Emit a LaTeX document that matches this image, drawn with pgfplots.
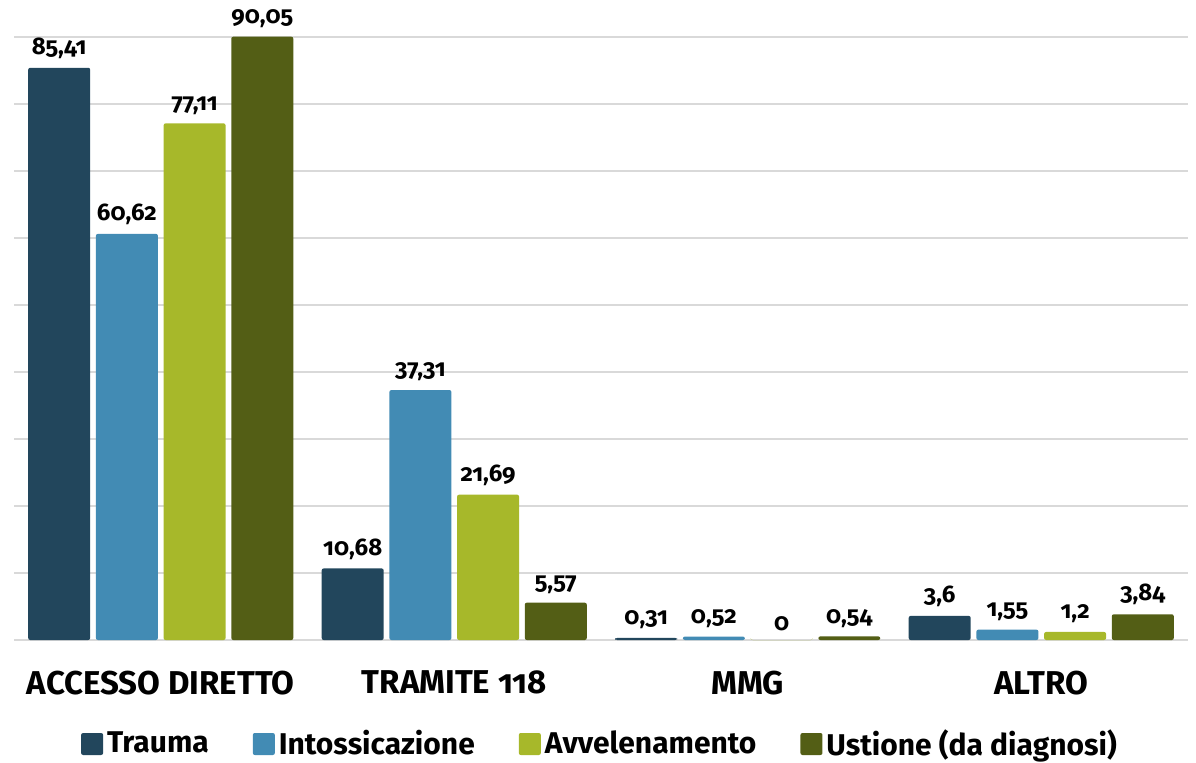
\documentclass[border=0pt]{standalone}
\usepackage{pgfplots}
\pgfplotsset{compat=1.18}
\usepackage{fontspec}
\setmainfont{Fira Sans}[Numbers=OldStyle]
\definecolor{trauma}{HTML}{22465C}
\definecolor{intox}{HTML}{428BB4}
\definecolor{avvel}{HTML}{A7B82A}
\definecolor{ustione}{HTML}{535E15}
\definecolor{gridc}{HTML}{D9D9D9}

\begin{document}
\begin{tikzpicture}
\begin{axis}[
  at={(7pt,61pt)}, anchor=south west,
  scale only axis, clip=false,
  width=587pt, height=301.5pt,
  ybar=2.85pt, bar width=31pt,
  xmin=-0.5, xmax=3.5,
  ymin=0, ymax=90,
  xtick=data,
  xticklabels={ACCESSO DIRETTO, TRAMITE 118, MMG, ALTRO},
  xticklabel style={font=\bfseries\fontsize{16.5}{18}\selectfont, yshift=-12pt},
  major tick length=0pt,
  ytick={0,10,...,90},
  yticklabels={},
  ymajorgrids,
  major grid style={gridc, line width=0.8pt},
  axis line style={draw=none},
  /pgf/number format/assume math mode=true,
  /pgf/number format/use comma,
  nodes near coords,
  every node near coord/.append style={font=\bfseries\fontsize{12}{14}\selectfont, black, yshift=1pt},
  legend columns=4,
  legend style={at={(0.5,0)}, anchor=center, yshift=-52pt, draw=none,
    font=\bfseries\fontsize{15}{17}\selectfont,
    /tikz/every even column/.append style={column sep=20pt}},
  legend image code/.code={\fill[#1, rounded corners=1pt] (0pt,-5.5pt) rectangle (11pt,5.5pt);},
]
\addplot[fill=trauma, draw=none, rounded corners=1pt] coordinates {(0,85.41) (1,10.68) (2,0.31) (3,3.6)};
\addplot[fill=intox, draw=none, rounded corners=1pt] coordinates {(0,60.62) (1,37.31) (2,0.52) (3,1.55)};
\addplot[fill=avvel, draw=none, rounded corners=1pt] coordinates {(0,77.11) (1,21.69) (2,0) (3,1.2)};
\addplot[fill=ustione, draw=none, rounded corners=1pt] coordinates {(0,90.05) (1,5.57) (2,0.54) (3,3.84)};
\legend{Trauma, Intossicazione, Avvelenamento, Ustione (da diagnosi)}
\end{axis}
\pgfresetboundingbox
\path (0,0) rectangle (598pt,381pt);
\end{tikzpicture}
\end{document}
